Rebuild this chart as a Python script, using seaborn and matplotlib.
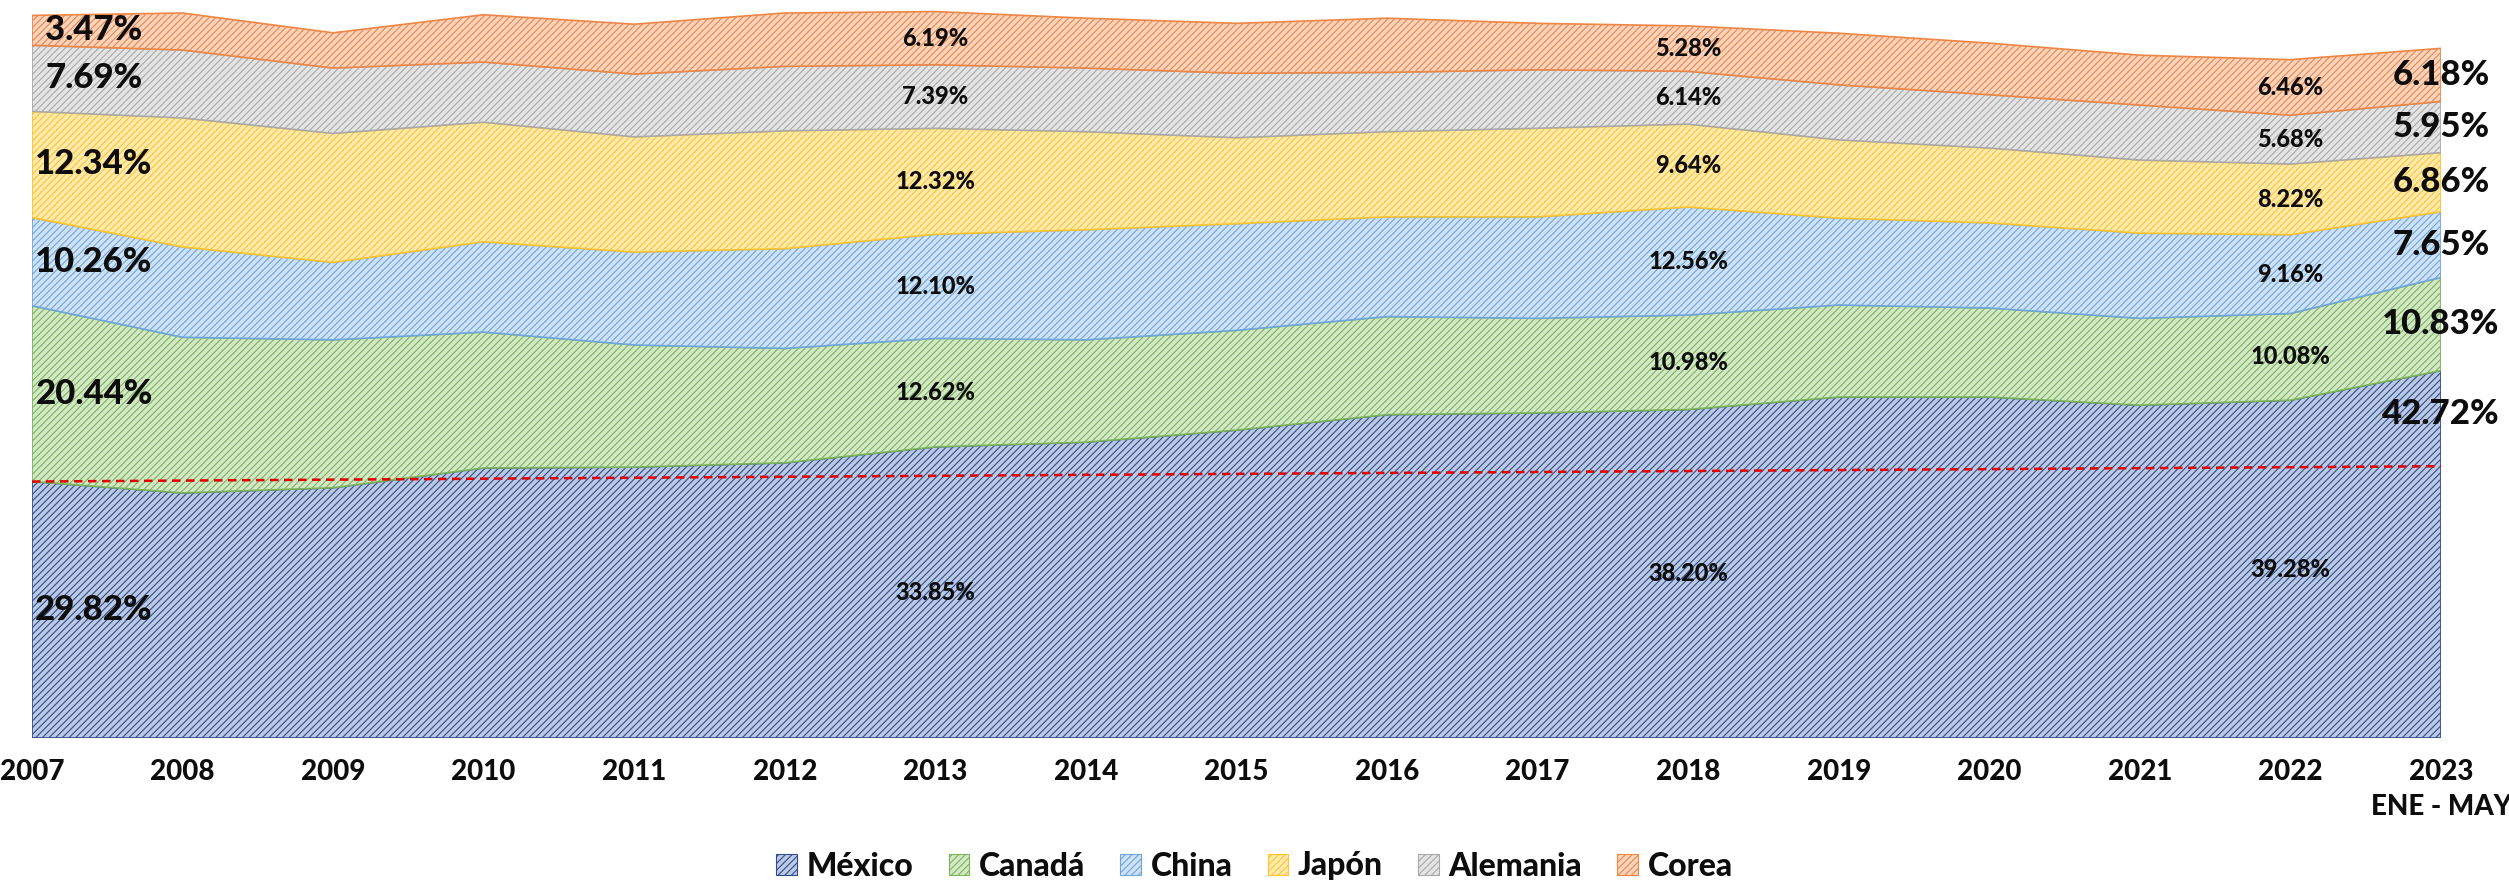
import matplotlib
matplotlib.use("Agg")
import matplotlib.pyplot as plt
import seaborn as sns
import numpy as np
from matplotlib.patches import Patch

# ---------------- data ----------------
anios = [2007, 2008, 2009, 2010, 2011, 2012, 2013, 2014, 2015,
         2016, 2017, 2018, 2019, 2020, 2021, 2022, 2023]
etiquetas_x = [str(a) for a in anios[:-1]] + ["2023\nENE - MAY"]

paises = ["México", "Canadá", "China", "Japón", "Alemania", "Corea"]
mexico = [29.82, 28.5, 29.1, 31.4, 31.5, 32.0, 33.85, 34.4, 35.8, 37.6, 37.8, 38.20, 39.65, 39.65, 38.7, 39.28, 42.72]
canada = [20.44, 18.1, 17.2, 15.8, 14.2, 13.3, 12.62, 11.9, 11.6, 11.4, 11.0, 10.98, 10.7, 10.35, 10.1, 10.08, 10.83]
china = [10.26, 10.5, 9.0, 10.5, 10.8, 11.6, 12.10, 12.8, 12.4, 11.6, 11.8, 12.56, 10.1, 9.9, 9.9, 9.16, 7.65]
japon = [12.34, 15.0, 15.0, 13.9, 13.4, 13.7, 12.32, 11.4, 10.0, 9.9, 10.3, 9.64, 9.1, 8.7, 8.5, 8.22, 6.86]
alemania = [7.69, 7.9, 7.6, 7.0, 7.3, 7.5, 7.39, 7.4, 7.5, 6.9, 6.8, 6.14, 6.4, 6.2, 6.4, 5.68, 5.95]
corea = [3.47, 4.3, 4.1, 5.5, 5.8, 6.2, 6.19, 5.8, 5.8, 6.3, 5.4, 5.28, 6.0, 6.0, 5.8, 6.46, 6.18]

anios_etiqueta_chica = [2013, 2018, 2022]
anio_inicio, anio_fin = 2007, 2023

# reference (dashed red) line
linea_anios = [2007, 2023]
linea_valores = [29.82, 31.6]

# ---------------- style ----------------
sns.set_theme(style="white")
plt.rcParams["font.family"] = ["Lato", "DejaVu Sans"]
plt.rcParams["hatch.linewidth"] = 0.8

face_colors = ["#BCC9E2", "#D3E8C6", "#CFE2F5", "#FFEBB0", "#E4E4E4", "#F9D4BE"]
stripe_colors = ["#2E4D8F", "#7CB35A", "#6FA6DB", "#FFC42E", "#A9A9A9", "#EE8646"]

series = [mexico, canada, china, japon, alemania, corea]
data = np.array(series, dtype=float)
x = np.array(anios)

fig = plt.figure(figsize=(25.09, 8.82), dpi=100)
ax = fig.add_axes([32 / 2509, (882 - 738) / 882, (2441 - 32) / 2509, 738 / 882])

cum = np.cumsum(data, axis=0)
bottoms = np.vstack([np.zeros(len(anios)), cum[:-1]])

for i, nombre in enumerate(paises):
    ax.fill_between(x, bottoms[i], cum[i], facecolor=face_colors[i],
                    edgecolor=stripe_colors[i], hatch="/////", linewidth=1.2,
                    zorder=2)

# dashed red reference line via seaborn
sns.lineplot(x=linea_anios, y=linea_valores, ax=ax, color="#E00000",
             linewidth=1.8, linestyle=(0, (3.4, 2.2)), zorder=4)

# ---------------- data labels ----------------
txt_color = "#0d0d0d"
W = "black"
for j, anio in enumerate(anios):
    for i in range(len(paises)):
        val = data[i, j]
        mid = bottoms[i, j] + val / 2
        lab = f"{val:.2f}%"
        if anio == anio_inicio:
            ax.annotate(lab, xy=(anio, mid), xytext=(62, 0), textcoords="offset pixels",
                        ha="center", va="center", fontsize=25, fontweight=W,
                        color=txt_color, annotation_clip=False, zorder=5)
        elif anio == anio_fin:
            ypos = mid if i != 0 else cum[i, j] - 5.0
            ax.annotate(lab, xy=(anio, ypos), xytext=(0, 0), textcoords="offset pixels",
                        ha="center", va="center", fontsize=25, fontweight=W,
                        color=txt_color, annotation_clip=False, zorder=5)
        elif anio in anios_etiqueta_chica:
            ax.annotate(lab, xy=(anio, mid), xytext=(0, 0), textcoords="offset pixels",
                        ha="center", va="center", fontsize=17, fontweight=W,
                        color=txt_color, annotation_clip=False, zorder=5)

# ---------------- axes ----------------
ax.set_xlim(anio_inicio, anio_fin)
ax.set_ylim(0, 738 / 8.6)
ax.set_xticks(anios)
ax.set_xticklabels(etiquetas_x, fontsize=20, fontweight=W, color=txt_color,
                   linespacing=1.45)
ax.tick_params(axis="x", length=0, pad=15)
ax.set_yticks([])
ax.set_xlabel("")
ax.set_ylabel("")
for s in ax.spines.values():
    s.set_visible(False)
ax.grid(False)

# ---------------- legend ----------------
handles = [Patch(facecolor=face_colors[i], edgecolor=stripe_colors[i], hatch="/////",
                 linewidth=0.8) for i in range(len(paises))]
fig.legend(handles, paises, loc="center", bbox_to_anchor=(0.5, 16 / 882), ncol=6,
           frameon=False, prop={"family": ["Lato", "DejaVu Sans"], "weight": W, "size": 23},
           handlelength=0.65, handleheight=0.65, handletextpad=0.3, columnspacing=1.1,
           labelcolor=txt_color)

fig.savefig("out.png", dpi=100)
